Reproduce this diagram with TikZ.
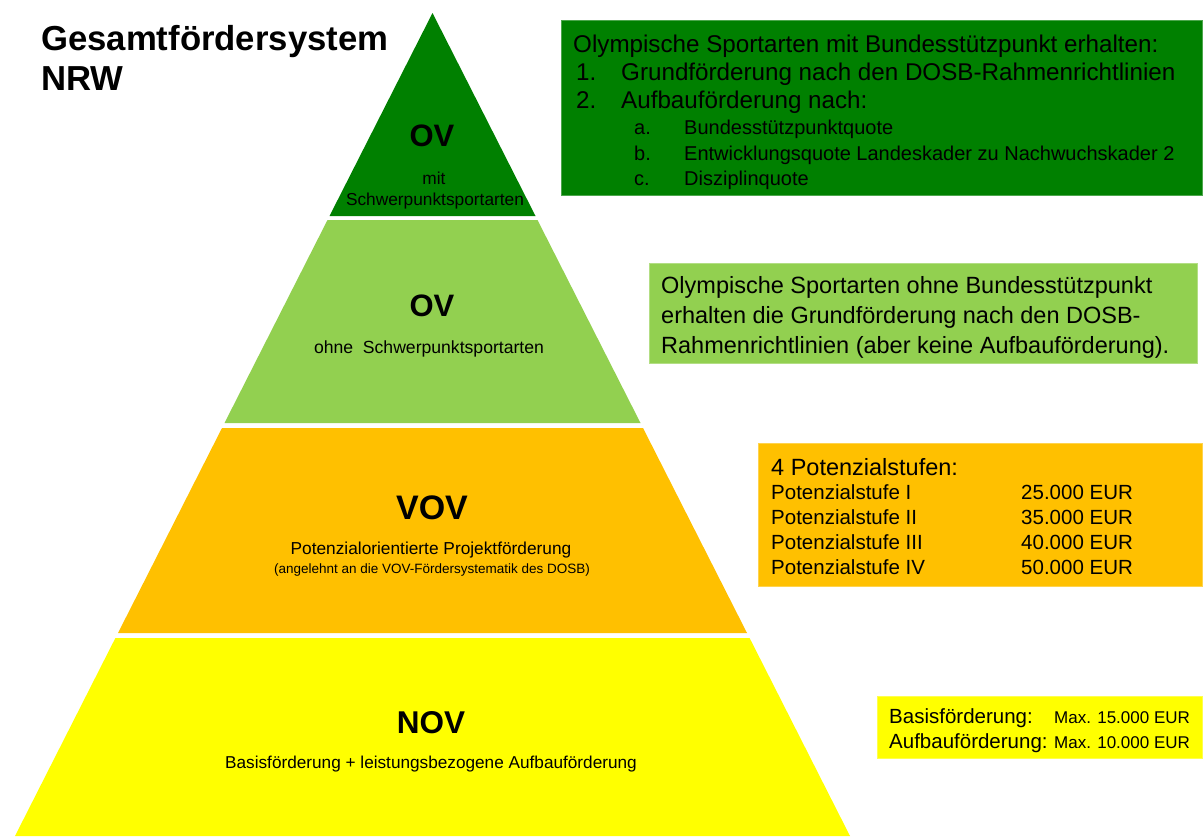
\documentclass[tikz,border=0pt]{standalone}
\usepackage{fontspec}
\setmainfont{Liberation Sans}
\definecolor{dgreen}{HTML}{008000}
\definecolor{lgreen}{HTML}{92D050}
\definecolor{orangeY}{HTML}{FFC000}
\definecolor{yel}{HTML}{FFFF00}
\tikzset{
 fs/.style={font=\fontsize{#1}{#1}\selectfont},
 txt/.style={inner sep=0pt, anchor=base west},
 ctxt/.style={inner sep=0pt, anchor=base},
 infobox/.style={inner sep=0pt, anchor=north west, draw=#1!70!white, line width=0.8pt, fill=#1},
 layer/.style={fill=#1, draw=none}
}
\begin{document}
\begin{tikzpicture}[x=1pt,y=-1pt]
\useasboundingbox (0,0) rectangle (1204,836);
\fill[white] (0,0) rectangle (1204,836);

% pyramid layers
\path[layer=dgreen] (432.5,13) -- (535.5,216) -- (329.5,216) -- cycle;
\path[layer=lgreen] (327.5,220) -- (537.5,220) -- (640.5,423) -- (224.5,423) -- cycle;
\path[layer=orangeY] (222,428) -- (643,428) -- (747,633) -- (118,633) -- cycle;
\path[layer=yel] (115.4,638) -- (749.6,638) -- (850,836) -- (15,836) -- cycle;

% title
\node[txt, font=\bfseries\fontsize{34.7}{34.7}\selectfont] (t1) at (41,50) {Gesamtfördersystem};
\node[txt, font=\bfseries\fontsize{34.7}{34.7}\selectfont] (t2) at (41,90) {NRW};

% pyramid labels
\node[ctxt, font=\bfseries\fontsize{31}{31}\selectfont] (ov1) at (432,146) {OV};
\node[ctxt, fs=17.3] (ov1a) at (434,184) {mit};
\node[ctxt, fs=17.3] (ov1b) at (435,205) {Schwerpunktsportarten};

\node[ctxt, font=\bfseries\fontsize{31}{31}\selectfont] (ov2) at (432,316) {OV};
\node[ctxt, fs=17.6] (ov2a) at (429,353) {ohne\ \ Schwerpunktsportarten};

\node[ctxt, font=\bfseries\fontsize{34}{34}\selectfont] (vov) at (432,519) {VOV};
\node[ctxt, fs=17.3] (vova) at (431,554) {Potenzialorientierte Projektförderung};
\node[ctxt, fs=13.5] (vovb) at (432,573) {(angelehnt an die VOV-Fördersystematik des DOSB)};

\node[ctxt, font=\bfseries\fontsize{31.5}{31.5}\selectfont] (nov) at (431,733) {NOV};
\node[ctxt, fs=17.2] (nova) at (431,768) {Basisförderung + leistungsbezogene Aufbauförderung};

% info boxes
\node[infobox=dgreen, minimum width=641pt, minimum height=175pt] (b1) at (561,20) {};
\node[txt, fs=24.2] (b1l1) at (573,52) {Olympische Sportarten mit Bundesstützpunkt erhalten:};
\node[txt, fs=24.2] (b1n1) at (576,80) {1.};
\node[txt, fs=24.2] (b1l2) at (621,80) {Grundförderung nach den DOSB-Rahmenrichtlinien};
\node[txt, fs=24.2] (b1n2) at (576,108) {2.};
\node[txt, fs=24.2] (b1l3) at (621,108) {Aufbauförderung nach:};
\node[txt, fs=20] (b1na) at (634,134) {a.};
\node[txt, fs=20] (b1la) at (684,134) {Bundesstützpunktquote};
\node[txt, fs=20] (b1nb) at (634,160) {b.};
\node[txt, fs=20] (b1lb) at (684,160) {Entwicklungsquote Landeskader zu Nachwuchskader 2};
\node[txt, fs=20] (b1nc) at (634,185) {c.};
\node[txt, fs=20] (b1lc) at (684,185) {Disziplinquote};

\node[infobox=lgreen, minimum width=548pt, minimum height=100pt] (b2) at (649,263) {};
\node[txt, fs=23.5] (b2l1) at (661,293) {Olympische Sportarten ohne Bundesstützpunkt};
\node[txt, fs=23.5] (b2l2) at (661,323) {erhalten die Grundförderung nach den DOSB-};
\node[txt, fs=23.5] (b2l3) at (661,353) {Rahmenrichtlinien (aber keine Aufbauförderung).};

\node[infobox=orangeY, minimum width=444pt, minimum height=143pt] (b3) at (758,443) {};
\node[txt, fs=23.5] (b3h) at (771,475) {4 Potenzialstufen:};
\node[txt, fs=20.5] (b3r1) at (771,499) {Potenzialstufe I};
\node[txt, fs=20.5] (b3v1) at (1021,499) {25.000 EUR};
\node[txt, fs=20.5] (b3r2) at (771,524) {Potenzialstufe II};
\node[txt, fs=20.5] (b3v2) at (1021,524) {35.000 EUR};
\node[txt, fs=20.5] (b3r3) at (771,549) {Potenzialstufe III};
\node[txt, fs=20.5] (b3v3) at (1021,549) {40.000 EUR};
\node[txt, fs=20.5] (b3r4) at (771,574) {Potenzialstufe IV};
\node[txt, fs=20.5] (b3v4) at (1021,574) {50.000 EUR};

\node[infobox=yel, minimum width=325pt, minimum height=62pt] (b4) at (877,696) {};
\node[txt, fs=20.5] (b4r1) at (889,723) {Basisförderung:};
\node[txt, fs=17] (b4v1) at (1054,723) {Max. 15.000 EUR};
\node[txt, fs=20.5] (b4r2) at (889,748) {Aufbauförderung:};
\node[txt, fs=17] (b4v2) at (1054,748) {Max. 10.000 EUR};
\end{tikzpicture}
\end{document}
